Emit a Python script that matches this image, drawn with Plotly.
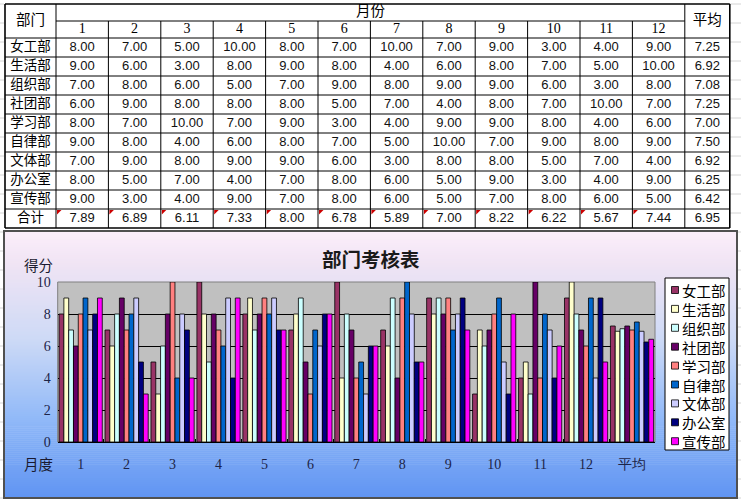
import plotly.graph_objects as go

# ---- data ----
depts = ['女工部', '生活部', '组织部', '社团部', '学习部', '自律部', '文体部', '办公室', '宣传部']
months = [str(m) for m in range(1, 13)]

nvgong = [8, 7, 5, 10, 8, 7, 10, 7, 9, 3, 4, 9]
shenghuo = [9, 6, 3, 8, 9, 8, 4, 6, 8, 7, 5, 10]
zuzhi = [7, 8, 6, 5, 7, 9, 8, 9, 9, 6, 3, 8]
shetuan = [6, 9, 8, 8, 8, 5, 7, 4, 8, 7, 10, 7]
xuexi = [8, 7, 10, 7, 9, 3, 4, 9, 9, 8, 4, 6]
zilv = [9, 8, 4, 6, 8, 7, 5, 10, 7, 9, 8, 9]
wenti = [7, 9, 8, 9, 9, 6, 3, 8, 8, 5, 7, 4]
bangong = [8, 5, 7, 4, 7, 8, 6, 5, 9, 3, 4, 9]
xuanchuan = [9, 3, 4, 9, 7, 8, 6, 5, 7, 8, 6, 5]

avg_scores = [7.25, 6.92, 7.08, 7.25, 7.00, 7.50, 6.92, 6.25, 6.42]
month_totals = [7.89, 6.89, 6.11, 7.33, 8.00, 6.78, 5.89, 7.00, 8.22, 6.22, 5.67, 7.44]
overall_avg = 6.95

dept_scores = [nvgong, shenghuo, zuzhi, shetuan, xuexi, zilv, wenti, bangong, xuanchuan]
colors = ['#993366', '#FFFFCC', '#CCFFFF', '#660066', '#FF8080',
          '#0066CC', '#CCCCFF', '#000080', '#FF00FF']
categories = months + ['平均']

W, H = 741, 500
CJK = 'Noto Sans CJK SC'


def px(x):
    return x / W


def py(y):
    return 1 - y / H


fig = go.Figure()

# ---- chart: grouped bars ----
for name, vals, avg, col in zip(depts, dept_scores, avg_scores, colors):
    fig.add_trace(go.Bar(x=categories, y=vals + [avg], name=name, marker_color=col,
                         marker_line=dict(color='black', width=0.8), showlegend=False))

# ---- table (drawn in pixel-like axes x2/y2) ----
left, top = 5, 4
col_w = [51] + [52.4] * 12 + [45]
row_h = [17, 17] + [19] * 10
col_edges = [left]
for w in col_w:
    col_edges.append(col_edges[-1] + w)
row_edges = [top]
for h in row_h:
    row_edges.append(row_edges[-1] + h)
col_mid = [(a + b) / 2 for a, b in zip(col_edges[:-1], col_edges[1:])]
row_mid = [(a + b) / 2 for a, b in zip(row_edges[:-1], row_edges[1:])]

# header texts
fig.add_trace(go.Scatter(
    x=[col_mid[0], (col_edges[1] + col_edges[13]) / 2, col_mid[13]],
    y=[row_edges[2] / 2 + top / 2, row_mid[0], row_edges[2] / 2 + top / 2],
    text=['部门', '月份', '平均'], mode='text', textposition='middle center',
    textfont=dict(family=CJK, size=14.5, color='black'),
    xaxis='x2', yaxis='y2', showlegend=False, hoverinfo='skip'))
fig.add_trace(go.Scatter(
    x=col_mid[1:13], y=[row_mid[1]] * 12, text=months, mode='text',
    textfont=dict(family='Liberation Serif', size=14, color='black'),
    xaxis='x2', yaxis='y2', showlegend=False, hoverinfo='skip'))

# row labels
fig.add_trace(go.Scatter(
    x=[col_mid[0]] * 10, y=row_mid[2:], text=depts + ['合计'], mode='text',
    textfont=dict(family=CJK, size=13.5, color='black'),
    xaxis='x2', yaxis='y2', showlegend=False, hoverinfo='skip'))

# values
cx, cy, ct = [], [], []
for r, (vals, avg) in enumerate(zip(dept_scores, avg_scores)):
    for c, v in enumerate(vals + [avg]):
        cx.append(col_mid[c + 1])
        cy.append(row_mid[r + 2])
        ct.append(f'{v:.2f}')
for c, v in enumerate(month_totals + [overall_avg]):
    cx.append(col_mid[c + 1])
    cy.append(row_mid[11])
    ct.append(f'{v:.2f}')
fig.add_trace(go.Scatter(
    x=cx, y=cy, text=ct, mode='text',
    textfont=dict(family='Liberation Sans', size=13, color='#111111'),
    xaxis='x2', yaxis='y2', showlegend=False, hoverinfo='skip'))

# comment markers on the 合计 row
fig.add_trace(go.Scatter(
    x=[e + 2.5 for e in col_edges[1:13]], y=[row_edges[11] + 2.5] * 12, mode='markers',
    marker=dict(symbol='triangle-nw', size=5, color='#CC0000', line=dict(width=0)),
    xaxis='x2', yaxis='y2', showlegend=False, hoverinfo='skip'))

shapes = []

# faint spreadsheet grid in the margins
y = top
while y < H:
    for x0, x1 in [(0, 4), (730, W)]:
        shapes.append(dict(type='line', xref='paper', yref='paper', x0=px(x0), x1=px(x1),
                           y0=py(y), y1=py(y), line=dict(color='#D4D4D4', width=1), layer='below'))
    y += 19

# table grid
tb = dict(type='line', xref='x2', yref='y2', layer='above')
for i, ye in enumerate(row_edges):
    if i == 1:
        shapes.append(dict(tb, x0=col_edges[1], x1=col_edges[13], y0=ye, y1=ye,
                           line=dict(color='black', width=1)))
    else:
        w = 1.6 if i in (0, len(row_edges) - 1) else 1
        shapes.append(dict(tb, x0=col_edges[0], x1=col_edges[-1], y0=ye, y1=ye,
                           line=dict(color='black', width=w)))
for i, xe in enumerate(col_edges):
    if i in (0, 1, 13, 14):
        w = 1.6 if i in (0, 14) else 1
        shapes.append(dict(tb, x0=xe, x1=xe, y0=row_edges[0], y1=row_edges[-1],
                           line=dict(color='black', width=w)))
    else:
        shapes.append(dict(tb, x0=xe, x1=xe, y0=row_edges[1], y1=row_edges[-1],
                           line=dict(color='black', width=1)))

# chart panel gradient
stops = [(0.0, (251, 238, 250)), (0.12, (240, 228, 244)), (0.4, (206, 218, 246)),
         (0.7, (146, 186, 248)), (1.0, (96, 148, 242))]


def grad(t):
    for (t0, c0), (t1, c1) in zip(stops[:-1], stops[1:]):
        if t <= t1:
            f = (t - t0) / (t1 - t0)
            return 'rgb(%d,%d,%d)' % tuple(round(a + (b - a) * f) for a, b in zip(c0, c1))
    return 'rgb(%d,%d,%d)' % stops[-1][1]


p_top, p_bot, p_left, p_right = 231, 498, 4, 737
n = 134
step = (p_bot - p_top) / n
for i in range(n):
    y0 = p_top + i * step
    shapes.append(dict(type='rect', xref='paper', yref='paper', x0=px(p_left), x1=px(p_right),
                       y0=py(y0), y1=py(y0 + step + 0.6), fillcolor=grad(i / (n - 1)),
                       line=dict(width=0), layer='below'))
shapes.append(dict(type='rect', xref='paper', yref='paper', x0=px(p_left), x1=px(p_right),
                   y0=py(p_top), y1=py(p_bot), line=dict(color='#505050', width=2),
                   fillcolor='rgba(0,0,0,0)', layer='above'))

# plot area
shapes.append(dict(type='rect', xref='x domain', yref='y domain', x0=0, x1=1, y0=0, y1=1,
                   fillcolor='#C0C0C0', line=dict(color='#808080', width=1), layer='below'))

# legend box (manual, Excel-like compact)
lg_l, lg_r, lg_t, lg_b = 665, 729, 278, 450
shapes.append(dict(type='rect', xref='x2', yref='y2', x0=lg_l, x1=lg_r, y0=lg_t, y1=lg_b,
                   fillcolor='white', line=dict(color='black', width=1), layer='above'))
annotations = []
for i, (name, col) in enumerate(zip(depts, colors)):
    yc = 290 + 18.9 * i
    shapes.append(dict(type='rect', xref='x2', yref='y2', x0=671.5, x1=678.5, y0=yc - 3.5,
                       y1=yc + 3.5, fillcolor=col, line=dict(color='black', width=0.8),
                       layer='above'))
    annotations.append(dict(xref='x2', yref='y2', x=681, y=yc, text=name, showarrow=False,
                            xanchor='left', yanchor='middle', height=16, borderpad=0,
                            font=dict(family=CJK, size=14.5, color='black')))

annotations += [
    dict(xref='paper', yref='paper', x=px(371), y=py(258), text='<b>部门考核表</b>',
         xanchor='center', yanchor='middle', showarrow=False,
         font=dict(family=CJK, size=19.5, color='#1a1a1a')),
    dict(xref='paper', yref='paper', x=px(38), y=py(264), text='得分', showarrow=False,
         xanchor='center', yanchor='middle', height=18,
         font=dict(family=CJK, size=14.5, color='#1a1a30')),
    dict(xref='paper', yref='paper', x=px(38), y=py(463), text='月度', showarrow=False,
         xanchor='center', yanchor='middle', height=18,
         font=dict(family=CJK, size=14.5, color='#1a1a30')),
]

fig.update_layout(
    width=W, height=H, margin=dict(l=0, r=0, t=0, b=0, autoexpand=False),
    paper_bgcolor='white', plot_bgcolor='rgba(0,0,0,0)',
    barmode='group', bargap=0.06, bargroupgap=0,
    shapes=shapes, annotations=annotations, showlegend=False,
    xaxis=dict(domain=[px(57.7), px(655)], type='category', showgrid=False, zeroline=False,
               automargin=False, showline=True, linecolor='black', linewidth=1,
               ticks='inside', tickson='boundaries', ticklen=3, tickcolor='black',
               ticklabelstandoff=9,
               tickfont=dict(family='Liberation Serif', size=14, color='#1c2448')),
    yaxis=dict(domain=[py(442), py(282)], range=[0, 10], dtick=2, showgrid=True,
               automargin=False, gridcolor='black', gridwidth=1, zeroline=False,
               showline=False, ticklabelstandoff=6,
               tickfont=dict(family='Liberation Serif', size=14, color='#1c2448')),
    xaxis2=dict(domain=[0, 1], range=[0, W], visible=False, anchor='y2', fixedrange=True,
                automargin=False),
    yaxis2=dict(domain=[0, 1], range=[H, 0], visible=False, anchor='x2', fixedrange=True,
                automargin=False),
)

# page body has a default 8px margin; drop it so the figure sits at the window corner
fig.write_html("out.html", config={'displayModeBar': False},
               post_script="document.body.style.margin='0';")
